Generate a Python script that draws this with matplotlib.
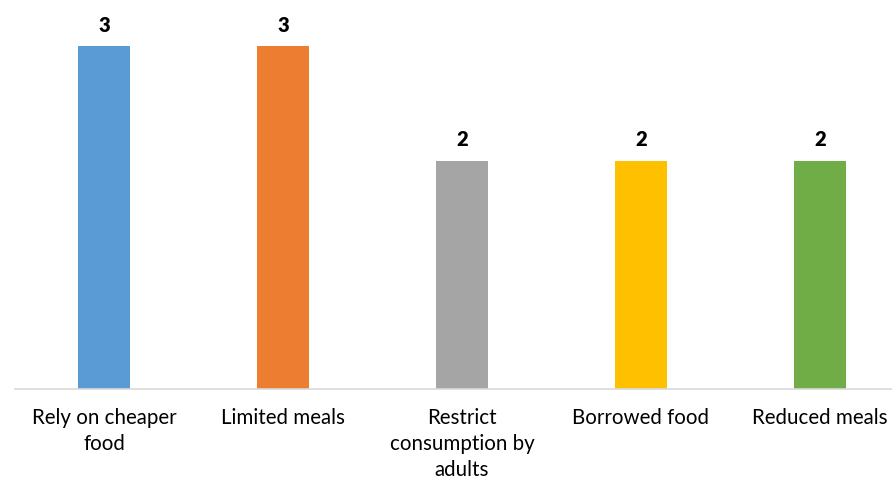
import matplotlib.pyplot as plt

plt.rcParams['font.family'] = ['Lato', 'DejaVu Sans']

categories = ['Rely on cheaper\nfood', 'Limited meals', 'Restrict\nconsumption by\nadults',
              'Borrowed food', 'Reduced meals']
counts = [3, 3, 2, 2, 2]
colors = ['#5B9BD5', '#ED7D31', '#A5A5A5', '#FFC000', '#70AD47']

fig = plt.figure(figsize=(8.92, 4.8), dpi=100)
# axes run slightly past the right edge so the spacing stays even
ax = fig.add_axes([14.5 / 892, 91 / 480, 895 / 892, 377 / 480])

x = range(len(categories))
bars = ax.bar(x, counts, width=0.295, color=colors, zorder=2)

for b, v in zip(bars, counts):
    ax.annotate(str(v), (b.get_x() + b.get_width() / 2, v), xytext=(0, 8),
                textcoords='offset points', ha='center', va='bottom',
                fontsize=14.5, fontweight='heavy')

ax.set_xlim(-0.5, 4.5)
ax.set_ylim(0, 3.3)
ax.set_xticks(list(x))
ax.set_xticklabels(categories, fontsize=14.8, linespacing=1.36, va='top')
ax.tick_params(axis='x', length=0, pad=14)
ax.set_yticks([])
for side in ['top', 'right', 'left']:
    ax.spines[side].set_visible(False)
ax.spines['bottom'].set_color('#D9D9D9')
ax.spines['bottom'].set_linewidth(1.2)

fig.savefig('out.png', dpi=100)
